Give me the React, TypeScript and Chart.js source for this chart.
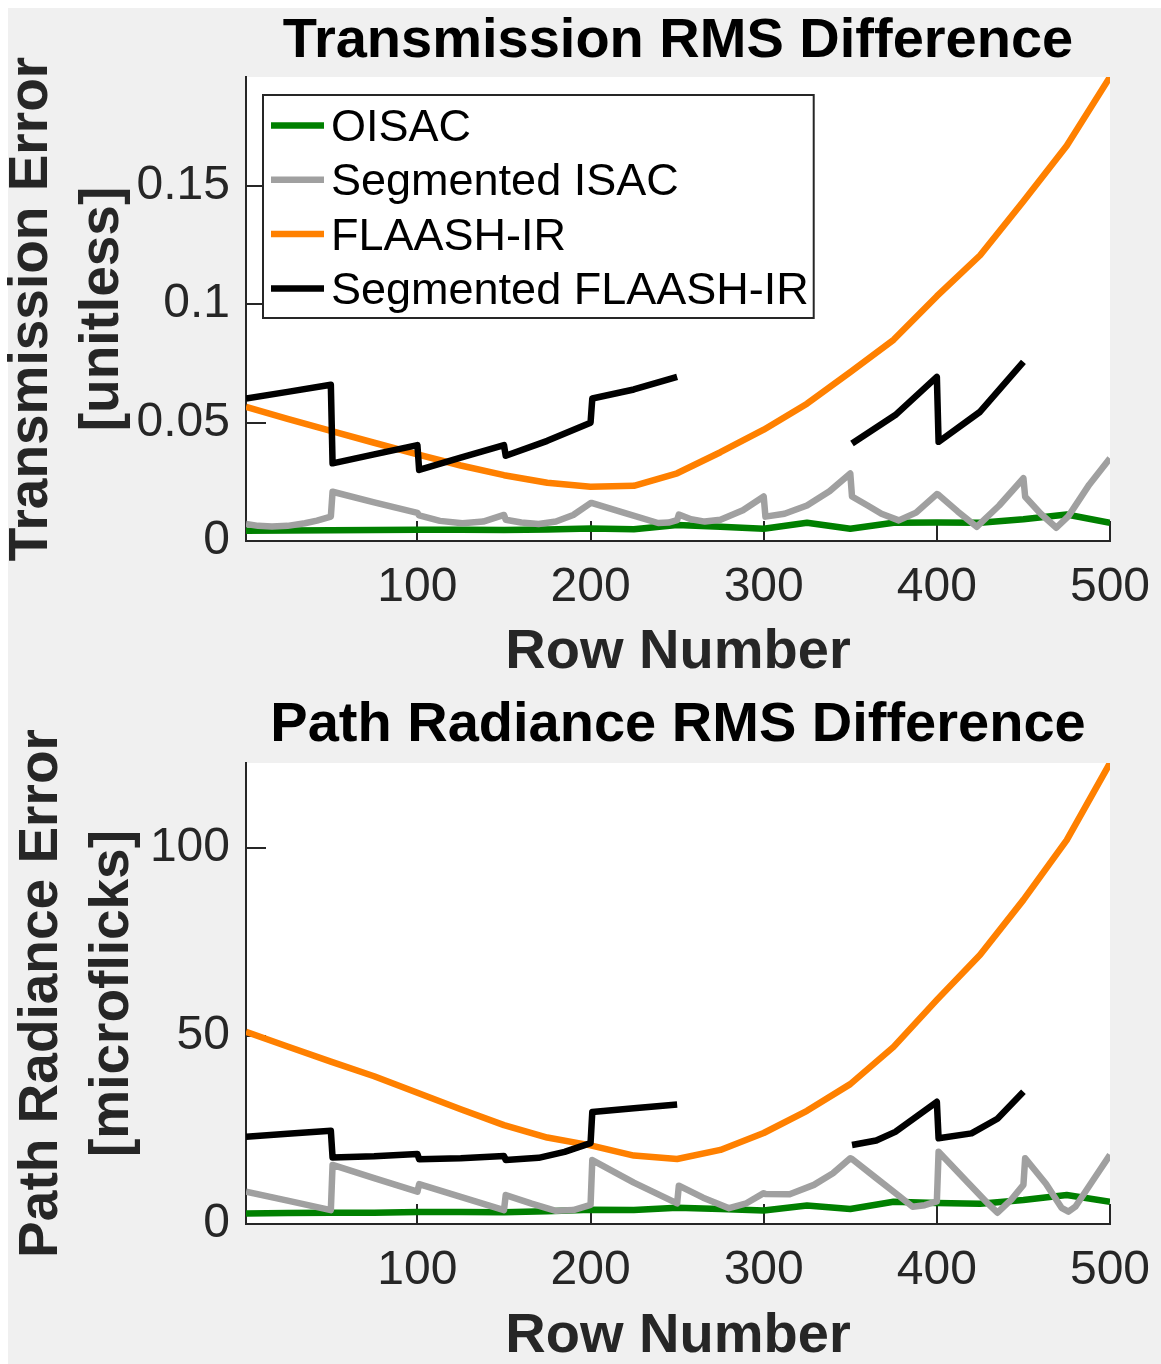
import React, { useEffect, useRef } from 'react';
import { Chart, registerables } from 'chart.js';

Chart.register(...registerables);

const FONT = '"Liberation Sans", Arial, Helvetica, sans-serif';
const AXIS = '#262626';

// ---------- shared ----------
const seriesNames = ['OISAC', 'Segmented ISAC', 'FLAASH-IR', 'Segmented FLAASH-IR'];
const seriesColors = ['#008000', '#a0a0a0', '#ff8000', '#000000'];
const xTicks = [100, 200, 300, 400, 500];
const rowGrid = [1, 25, 50, 75, 100, 125, 150, 175, 200, 225, 250, 275, 300, 325, 350, 375, 400, 425, 450, 475, 500];

// ---------- Transmission RMS Difference ----------
const transYTicks = [0, 0.05, 0.1, 0.15];
const transYTickLabels = ['0', '0.05', '0.1', '0.15'];
const transOisac = [0.0043, 0.0044, 0.0045, 0.0046, 0.0048, 0.0047, 0.0046, 0.0049, 0.0053, 0.0050, 0.0068, 0.0060, 0.0052, 0.0077, 0.0052, 0.0077, 0.0078, 0.0077, 0.0092, 0.0112, 0.0077];
const transFlaash = [0.0567, 0.0516, 0.0465, 0.0415, 0.0366, 0.0319, 0.0278, 0.0246, 0.0229, 0.0233, 0.0286, 0.0375, 0.0470, 0.0580, 0.0713, 0.0850, 0.1034, 0.1207, 0.1435, 0.1670, 0.1960];
const transSegIsacRows = [
  1, 8, 16, 25, 35, 42, 50,
  51, 75, 100,
  101, 113, 126, 138, 150,
  151, 160, 170, 180, 190, 200,
  201, 220, 239, 245, 250,
  251, 258, 266, 275, 288, 300,
  301, 312, 325, 338, 350,
  351, 360, 368, 378, 388, 400,
  401, 412, 423, 436, 450,
  451, 460, 469, 476, 488, 500,
];
const transSegIsacVals = [
  0.0072, 0.0064, 0.0061, 0.0064, 0.0075, 0.0086, 0.0103,
  0.0208, 0.0163, 0.0119,
  0.0108, 0.0085, 0.0075, 0.0082, 0.0110,
  0.0090, 0.0078, 0.0072, 0.0082, 0.0110, 0.0160,
  0.0160, 0.0118, 0.0076, 0.0078, 0.0088,
  0.0112, 0.0092, 0.0082, 0.0090, 0.0130, 0.0188,
  0.0103, 0.0115, 0.0150, 0.0210, 0.0285,
  0.0188, 0.0150, 0.0115, 0.0087, 0.0120, 0.0198,
  0.0195, 0.0125, 0.0060, 0.0150, 0.0265,
  0.0187, 0.0115, 0.0056, 0.0105, 0.0238, 0.0349,
];
const transSegFlaashRows = [1, 25, 50, 51, 75, 100, 101, 125, 150, 151, 175, 200, 201, 225, 250, 300, 351, 376, 400, 401, 425, 450];
const transSegFlaashVals = [0.0602, 0.0630, 0.0660, 0.0328, 0.0366, 0.0405, 0.0300, 0.0352, 0.0405, 0.0360, 0.0423, 0.0500, 0.0602, 0.0640, 0.0693, null, 0.0412, 0.0532, 0.0693, 0.0419, 0.0546, 0.0757];

// ---------- Path Radiance RMS Difference ----------
const radYTicks = [0, 50, 100];
const radYTickLabels = ['0', '50', '100'];
const radOisac = [2.8, 2.9, 3.0, 3.0, 3.2, 3.2, 3.1, 3.4, 3.8, 3.7, 4.3, 4.0, 3.6, 4.9, 4.0, 5.9, 5.6, 5.4, 6.4, 7.7, 5.9];
const radFlaash = [51.1, 47.2, 43.2, 39.3, 34.9, 30.5, 26.3, 23.0, 20.9, 18.2, 17.3, 19.7, 24.2, 30.1, 37.2, 47.1, 59.6, 71.6, 86.2, 102.1, 122.6];
const radSegIsacRows = [
  1, 25, 50,
  51, 75, 100,
  101, 125, 150,
  151, 166, 180, 190, 200,
  201, 225, 250,
  251, 265, 280, 290, 300,
  301, 315, 329, 340, 350,
  351, 365, 378, 386, 393, 400,
  401, 418, 430, 435, 443, 450,
  451, 463, 472, 476, 480, 490, 500,
];
const radSegIsacVals = [
  8.6, 6.2, 3.7,
  15.7, 12.2, 8.6,
  10.6, 7.2, 3.7,
  7.7, 5.4, 3.5, 3.7, 5.1,
  17.0, 11.0, 5.5,
  10.2, 7.0, 4.2, 5.5, 8.2,
  8.0, 7.9, 10.4, 13.5, 17.5,
  17.3, 12.2, 7.5, 4.6, 5.0, 6.0,
  19.2, 11.0, 5.2, 3.0, 6.5, 10.4,
  17.5, 10.7, 4.3, 3.3, 4.6, 11.5, 18.4,
];
const radSegFlaashRows = [1, 25, 50, 51, 75, 100, 101, 125, 150, 151, 170, 185, 200, 201, 225, 250, 300, 351, 365, 376, 388, 400, 401, 420, 435, 450];
const radSegFlaashVals = [23.2, 24.0, 24.8, 17.7, 18.0, 18.6, 17.2, 17.5, 18.1, 17.0, 17.6, 19.2, 21.5, 29.8, 30.8, 31.8, null, 21.0, 22.2, 24.5, 28.5, 32.5, 22.8, 24.1, 28.0, 35.2];

const pts = (rows: number[], vals: (number | null)[]) => rows.map((r, i) => ({ x: r, y: vals[i] }));

type PanelCfg = {
  title: string;
  yTitle: string[];
  yMax: number;
  yTicks: number[];
  yTickLabels: string[];
  series: { x: number; y: number | null }[][];
  legend: boolean;
  // layout
  top: number;
  height: number;
  padTop: number;
  xScaleH: number;
  titleY: number;
  xTitlePad: number;
  yTitlePad: number;
};

const transCfg: PanelCfg = {
  title: 'Transmission RMS Difference',
  yTitle: ['Transmission Error', '[unitless]'],
  yMax: 0.196,
  yTicks: transYTicks,
  yTickLabels: transYTickLabels,
  series: [
    pts(rowGrid, transOisac),
    pts(transSegIsacRows, transSegIsacVals),
    pts(rowGrid, transFlaash),
    pts(transSegFlaashRows, transSegFlaashVals),
  ],
  legend: true,
  top: 0,
  height: 690,
  padTop: 77,
  xScaleH: 149,
  titleY: 42,
  xTitlePad: 12,
  yTitlePad: 8.5,
};

const radCfg: PanelCfg = {
  title: 'Path Radiance RMS Difference',
  yTitle: ['Path Radiance Error', '[microflicks]'],
  yMax: 122.6,
  yTicks: radYTicks,
  yTickLabels: radYTickLabels,
  series: [
    pts(rowGrid, radOisac),
    pts(radSegIsacRows, radSegIsacVals),
    pts(rowGrid, radFlaash),
    pts(radSegFlaashRows, radSegFlaashVals),
  ],
  legend: false,
  top: 690,
  height: 674,
  padTop: 73,
  xScaleH: 140,
  titleY: 36,
  xTitlePad: 2,
  yTitlePad: 18.5,
};

const CANVAS_W = 1173;
const CANVAS_LEFT = -12;
const Y_SCALE_W = 258;
const PAD_RIGHT = 51;

const matlabPlugin = {
  id: 'matlabPanel',
  beforeDraw(chart: any, _args: any, opts: any) {
    const { ctx, chartArea: a } = chart;
    ctx.save();
    ctx.fillStyle = '#ffffff';
    ctx.fillRect(a.left, a.top, a.right - a.left, a.bottom - a.top);
    ctx.fillStyle = '#000000';
    ctx.font = `bold 56px ${FONT}`;
    ctx.textAlign = 'center';
    ctx.textBaseline = 'middle';
    ctx.fillText(opts.title, (a.left + a.right) / 2, opts.titleY);
    ctx.restore();
  },
  afterDatasetsDraw(chart: any, _args: any, opts: any) {
    if (!opts.legend) return;
    const { ctx, chartArea: a } = chart;
    const x0 = a.left + 17;
    const y0 = a.top + 18;
    ctx.save();
    ctx.font = `45px ${FONT}`;
    const names: string[] = chart.data.datasets.map((d: any) => d.label);
    const maxW = Math.max(...names.map((n) => ctx.measureText(n).width));
    const w = 68 + maxW + 5;
    const h = 223;
    ctx.fillStyle = '#ffffff';
    ctx.fillRect(x0, y0, w, h);
    ctx.strokeStyle = AXIS;
    ctx.lineWidth = 2;
    ctx.strokeRect(x0, y0, w, h);
    chart.data.datasets.forEach((ds: any, i: number) => {
      const y = y0 + 30.5 + i * 54.3;
      ctx.strokeStyle = ds.borderColor;
      ctx.lineWidth = 6.5;
      ctx.lineCap = 'butt';
      ctx.beginPath();
      ctx.moveTo(x0 + 8, y);
      ctx.lineTo(x0 + 61, y);
      ctx.stroke();
      ctx.fillStyle = '#000000';
      ctx.textAlign = 'left';
      ctx.textBaseline = 'middle';
      ctx.fillText(ds.label, x0 + 68, y + 3);
    });
    ctx.restore();
  },
};

function Panel({ cfg }: { cfg: PanelCfg }) {
  const ref = useRef<HTMLCanvasElement | null>(null);
  useEffect(() => {
    if (!ref.current) return;
    const gridOpts = {
      drawOnChartArea: false,
      drawTicks: true,
      tickLength: -20,
      color: AXIS,
      tickColor: AXIS,
      lineWidth: 2,
    };
    const chart = new Chart(ref.current, {
      type: 'line',
      data: {
        datasets: cfg.series.map((data, i) => ({
          label: seriesNames[i],
          data,
          borderColor: seriesColors[i],
          backgroundColor: seriesColors[i],
          borderWidth: 6.5,
          pointRadius: 0,
          pointHoverRadius: 0,
          tension: 0,
          spanGaps: false,
          borderJoinStyle: 'round',
          borderCapStyle: 'butt',
          fill: false,
          order: 4 - i,
        })),
      },
      options: {
        responsive: false,
        animation: false,
        devicePixelRatio: 1,
        events: [],
        layout: { padding: { left: 0, right: PAD_RIGHT, top: cfg.padTop, bottom: 0 } },
        plugins: {
          legend: { display: false },
          title: { display: false },
          tooltip: { enabled: false },
          matlabPanel: { title: cfg.title, titleY: cfg.titleY, legend: cfg.legend },
        } as any,
        scales: {
          x: {
            type: 'linear',
            min: 1,
            max: 500,
            afterBuildTicks: (s: any) => {
              s.ticks = xTicks.map((v) => ({ value: v }));
            },
            afterFit: (s: any) => {
              s.height = cfg.xScaleH;
              s.paddingLeft = 0;
              s.paddingRight = 0;
            },
            grid: gridOpts,
            border: { display: true, color: AXIS, width: 2 },
            ticks: {
              color: AXIS,
              font: { family: FONT, size: 48 },
              padding: 38,
              maxRotation: 0,
              minRotation: 0,
              autoSkip: false,
              callback: (v: any) => String(v),
            },
            title: {
              display: true,
              text: 'Row Number',
              color: AXIS,
              font: { family: FONT, size: 56, weight: 'bold', lineHeight: '50px' },
              padding: { top: 0, bottom: cfg.xTitlePad },
            },
          },
          y: {
            type: 'linear',
            min: 0,
            max: cfg.yMax,
            afterBuildTicks: (s: any) => {
              s.ticks = cfg.yTicks.map((v) => ({ value: v }));
            },
            afterFit: (s: any) => {
              s.width = Y_SCALE_W;
              s.paddingTop = 0;
              s.paddingBottom = 0;
            },
            grid: gridOpts,
            border: { display: true, color: AXIS, width: 2 },
            ticks: {
              color: AXIS,
              font: { family: FONT, size: 48 },
              padding: 36,
              autoSkip: false,
              callback: (_v: any, i: number) => cfg.yTickLabels[i],
            },
            title: {
              display: true,
              text: cfg.yTitle,
              color: AXIS,
              font: { family: FONT, size: 55, weight: 'bold', lineHeight: '71px' },
              padding: { top: cfg.yTitlePad, bottom: 0 },
            },
          },
        },
      } as any,
      plugins: [matlabPlugin],
    });
    return () => chart.destroy();
  }, [cfg]);
  return (
    <canvas
      ref={ref}
      width={CANVAS_W}
      height={cfg.height}
      style={{ position: 'absolute', left: CANVAS_LEFT, top: cfg.top, width: CANVAS_W, height: cfg.height }}
    />
  );
}

export default function App() {
  return (
    <div
      style={{
        position: 'absolute',
        left: 0,
        top: 0,
        width: 1161,
        height: 1364,
        overflow: 'hidden',
        background: '#ffffff',
      }}
    >
      <div style={{ position: 'absolute', left: 8, top: 8, width: 1153, height: 1356, background: '#f0f0f0' }} />
      <Panel cfg={transCfg} />
      <Panel cfg={radCfg} />
    </div>
  );
}
